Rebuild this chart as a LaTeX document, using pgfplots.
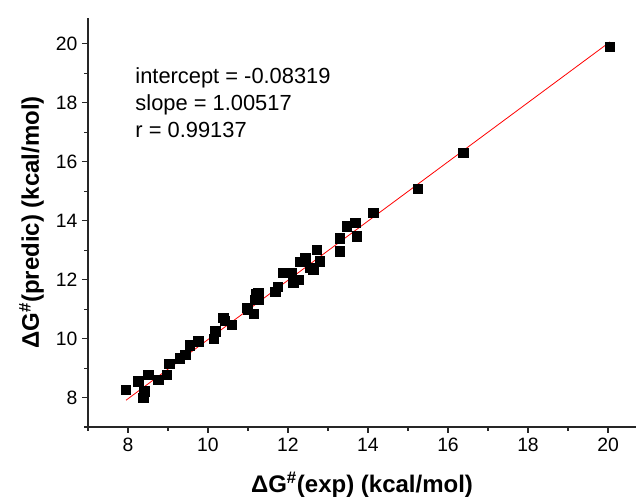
\documentclass[border=0pt]{standalone}
\usepackage{fontspec}
\setmainfont{Liberation Sans}
\usepackage{pgfplots}
\pgfplotsset{compat=1.18}

\begin{document}
\begin{tikzpicture}
\begin{axis}[
    scale only axis,
    width=411pt, height=306.75pt,
    xmin=7, xmax=20.7,
    ymin=7, ymax=20.88,
    axis x line*=bottom,
    axis y line*=left,
    axis line style={line width=0.8pt, black!85, -},
    xtick={8,10,...,20},
    ytick={8,10,...,20},
    minor xtick={7,9,...,19},
    minor ytick={7,9,...,19},
    tick align=outside,
    major tick length=4.5pt,
    minor tick length=2.8pt,
    tick style={line width=0.8pt, black!85},
    ticklabel style={font=\fontsize{14.5}{16}\selectfont},
    /pgf/number format/assume math mode=true,
    xlabel={ΔG\textsuperscript{\#}(exp) (kcal/mol)},
    ylabel={ΔG\textsuperscript{\#}(predic) (kcal/mol)},
    label style={font=\bfseries\fontsize{18}{20}\selectfont},
    xlabel style={yshift=-9pt},
    ylabel style={yshift=2pt},
    clip=false,
]

% experimental vs predicted
\addplot[only marks, mark=square*, mark size=3.5pt, black]
coordinates {
    (7.95,8.27) (8.26,8.55) (8.51,8.78) (8.38,7.99) (8.41,8.21)
    (8.76,8.61) (8.97,8.78) (9.03,9.14) (9.30,9.33) (9.43,9.46)
    (9.55,9.77) (9.76,9.91) (10.15,10.00) (10.18,10.25) (10.38,10.70)
    (10.42,10.60) (10.59,10.47) (10.97,11.04) (11.00,10.98) (11.15,10.85)
    (11.18,11.32) (11.20,11.50) (11.26,11.55) (11.26,11.32) (11.68,11.60)
    (11.75,11.75) (11.88,12.23) (12.09,12.23) (12.13,11.90) (12.26,12.00)
    (12.30,12.60) (12.43,12.74) (12.55,12.40) (12.63,12.34) (12.72,13.02)
    (12.80,12.62) (13.30,13.41) (13.30,12.96) (13.47,13.81) (13.68,13.92)
    (13.72,13.47) (14.13,14.26) (15.25,15.08) (16.38,16.31) (20.05,19.90)
};

% linear fit
\addplot[red, line width=0.6pt]
coordinates {
    (7.95,7.908)
    (20.05,20.070)
};

\node[anchor=north west, align=left, inner sep=0pt,
      font=\fontsize{16.4}{20.25}\selectfont]
    at (axis cs:8.18,19.2)
    {intercept = -0.08319\\slope = 1.00517\\r = 0.99137};

\coordinate (sw) at (rel axis cs:0,0);
\coordinate (ne) at (rel axis cs:1,1);
\end{axis}
\pgfresetboundingbox
\path[use as bounding box] ([shift={(-66pt,-54pt)}]sw) rectangle ([shift={(0pt,13.5pt)}]ne);
\end{tikzpicture}
\end{document}
